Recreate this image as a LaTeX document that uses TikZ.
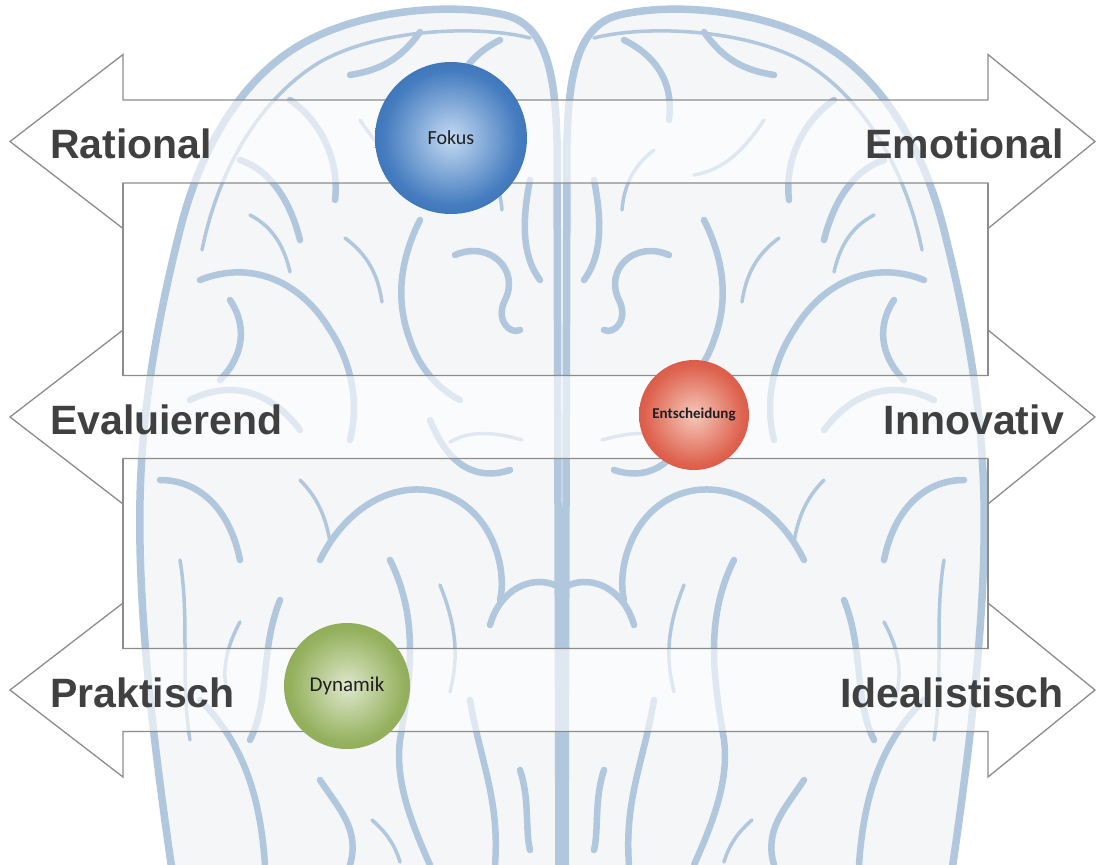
\documentclass[tikz,border=0pt]{standalone}
\usepackage{fontspec}
\setmainfont{Liberation Sans}
\newfontfamily\calfont{Carlito}
\definecolor{brainblue}{RGB}{176,199,222}
\definecolor{brainbg}{RGB}{244,246,248}
\definecolor{arrowgray}{RGB}{140,140,140}
\definecolor{labelgray}{RGB}{64,64,64}
\definecolor{bedge}{RGB}{30,88,162}
\definecolor{bmid}{RGB}{70,125,192}
\definecolor{bcen}{RGB}{196,218,242}
\definecolor{redge}{RGB}{198,52,38}
\definecolor{rmid}{RGB}{222,100,80}
\definecolor{rcen}{RGB}{246,200,186}
\definecolor{gedge}{RGB}{116,148,56}
\definecolor{gmid}{RGB}{150,178,96}
\definecolor{gcen}{RGB}{222,232,204}
\pgfdeclareradialshading{bluesph}{\pgfpoint{0bp}{0bp}}{color(0bp)=(bcen); color(22bp)=(bmid); color(42bp)=(bedge); color(50bp)=(bedge)}
\pgfdeclareradialshading{redsph}{\pgfpoint{0bp}{0bp}}{color(0bp)=(rcen); color(22bp)=(rmid); color(42bp)=(redge); color(50bp)=(redge)}
\pgfdeclareradialshading{greensph}{\pgfpoint{0bp}{0bp}}{color(0bp)=(gcen); color(22bp)=(gmid); color(42bp)=(gedge); color(50bp)=(gedge)}
\tikzset{
  brainline/.style={draw=brainblue, line width=6.5pt, line cap=round, line join=round},
  brainthin/.style={draw=brainblue, line width=3.5pt, line cap=round, line join=round},
  brainedge/.style={draw=brainblue, line width=7.5pt, line cap=round, line join=round},
  arrowshape/.style={draw=arrowgray, line width=1.3pt, fill=white, fill opacity=0.6, line join=miter},
  gapline/.style={draw=arrowgray, line width=1.3pt},
  leftlabel/.style={font=\bfseries\fontsize{41}{41}\selectfont, text=labelgray, anchor=base west, inner sep=0pt},
  rightlabel/.style={font=\bfseries\fontsize{41}{41}\selectfont, text=labelgray, anchor=base east, inner sep=0pt},
  sphere/.style={circle, inner sep=0pt, text=black!88}
}
\newcommand{\brainhalf}{%
  \draw[brainedge] (557,140) .. controls (555,70) and (545,25) .. (505,15) .. controls (450,2) and (360,10) .. (300,45) .. controls (240,80) and (200,150) .. (180,230) .. controls (160,310) and (142,400) .. (140,500) .. controls (138,600) and (150,720) .. (172,870);
  \draw[brainedge] (557,140) -- (559,870);
  \draw[brainthin] (530,38) .. controls (480,25) and (380,28) .. (320,62) .. controls (260,98) and (218,170) .. (202,250);
  \draw[brainline] (500,40) .. controls (470,55) and (450,80) .. (455,120);
  \draw[brainline] (420,32) .. controls (400,60) and (380,70) .. (350,75);
  \draw[brainline] (290,100) .. controls (320,120) and (340,160) .. (335,200);
  \draw[brainline] (240,160) .. controls (270,170) and (290,200) .. (300,240);
  \draw[brainline] (200,280) .. controls (250,260) and (300,280) .. (330,330) .. controls (350,360) and (360,400) .. (350,440);
  \draw[brainline] (420,220) .. controls (400,260) and (395,300) .. (410,340) .. controls (420,370) and (440,390) .. (460,400);
  \draw[brainline] (455,255) .. controls (490,240) and (520,270) .. (505,300) .. controls (495,320) and (510,335) .. (520,330);
  \draw[brainline] (530,180) .. controls (520,230) and (525,260) .. (540,280);
  \draw[brainline] (190,400) .. controls (230,380) and (270,390) .. (300,430);
  \draw[brainline] (160,480) .. controls (200,480) and (230,510) .. (240,560);
  \draw[brainline] (320,560) .. controls (360,480) and (440,470) .. (480,520) .. controls (500,545) and (505,580) .. (500,600);
  \draw[brainline] (430,420) .. controls (450,470) and (480,480) .. (510,470);
  \draw[brainline] (490,625) .. controls (500,590) and (530,575) .. (555,585);
  \draw[brainline] (280,600) .. controls (260,650) and (270,700) .. (250,740);
  \draw[brainline] (390,560) .. controls (420,620) and (410,680) .. (400,740) .. controls (395,780) and (410,820) .. (430,865);
  \draw[brainline] (200,700) .. controls (240,740) and (260,790) .. (265,865);
  \draw[brainline] (470,700) .. controls (480,760) and (500,800) .. (495,865);
  \draw[brainline] (320,780) .. controls (340,810) and (360,830) .. (350,865);
  \draw[brainthin] (180,560) .. controls (190,620) and (180,680) .. (190,740);
  \draw[brainline] (520,770) .. controls (530,800) and (525,830) .. (530,850);
  \draw[brainline] (230,300) .. controls (250,330) and (240,360) .. (220,380);
  \draw[brainthin] (360,120) .. controls (380,150) and (400,170) .. (430,175);
  \draw[brainthin] (250,215) .. controls (275,228) and (285,250) .. (290,272);
  \draw[brainthin] (345,238) .. controls (368,255) and (378,275) .. (382,302);
  \draw[brainthin] (450,442) .. controls (470,430) and (495,432) .. (522,440);
  \draw[brainthin] (300,480) .. controls (318,498) and (326,518) .. (330,542);
  \draw[brainthin] (240,622) .. controls (222,655) and (222,680) .. (230,702);
  \draw[brainthin] (440,585) .. controls (458,630) and (458,660) .. (450,692);
  \draw[brainthin] (372,820) .. controls (386,832) and (395,845) .. (400,862);
  \draw[brainthin] (470,150) .. controls (490,165) and (500,185) .. (502,210);
}
\newcommand{\dblarrow}[1]{%
  \draw[arrowshape] (10,#1) -- (123,#1-87) -- (123,#1-41.5) -- (988,#1-41.5) -- (988,#1-87) -- (1095,#1) -- (988,#1+87) -- (988,#1+41.5) -- (123,#1+41.5) -- (123,#1+87) -- cycle;
}
\begin{document}
\begin{tikzpicture}[x=1pt,y=-1pt]
\useasboundingbox (0,0) rectangle (1101,865);
\clip (0,0) rectangle (1101,865);
\fill[white] (0,0) rectangle (1101,865);
% brain background
\fill[brainbg] (557,140) .. controls (555,70) and (545,25) .. (505,15) .. controls (450,2) and (360,10) .. (300,45) .. controls (240,80) and (200,150) .. (180,230) .. controls (160,310) and (142,400) .. (140,500) .. controls (138,600) and (150,720) .. (172,870) -- (952,870) .. controls (974,720) and (986,600) .. (984,500) .. controls (982,400) and (964,310) .. (944,230) .. controls (924,150) and (884,80) .. (824,45) .. controls (764,10) and (674,2) .. (619,15) .. controls (579,25) and (569,70) .. (567,140) -- cycle;
\brainhalf
\begin{scope}[xshift=1124pt, xscale=-1]
\brainhalf
\end{scope}
% arrows
\dblarrow{141.5}
\dblarrow{417}
\dblarrow{690}
\draw[gapline] (123,183) -- (123,375.5);
\draw[gapline] (988,183) -- (988,375.5);
\draw[gapline] (123,458.5) -- (123,648.5);
\draw[gapline] (988,458.5) -- (988,648.5);
% labels
\node[leftlabel] (rational) at (50,158) {Rational};
\node[rightlabel] (emotional) at (1064,158) {Emotional};
\node[leftlabel] (evaluierend) at (50,434) {Evaluierend};
\node[rightlabel] (innovativ) at (1064,434) {Innovativ};
\node[leftlabel] (praktisch) at (50,707) {Praktisch};
\node[rightlabel] (idealistisch) at (1064,707) {Idealistisch};
% spheres
\node[sphere, minimum size=152pt, shading=bluesph, font=\calfont\fontsize{20}{20}\selectfont] (fokus) at (451,138) {Fokus};
\node[sphere, minimum size=110pt, shading=redsph, font=\calfont\bfseries\fontsize{15}{15}\selectfont] (entscheidung) at (694,415) {Entscheidung};
\node[sphere, minimum size=126pt, shading=greensph, font=\calfont\fontsize{21}{21}\selectfont] (dynamik) at (347,686) {Dynamik};
\end{tikzpicture}
\end{document}
